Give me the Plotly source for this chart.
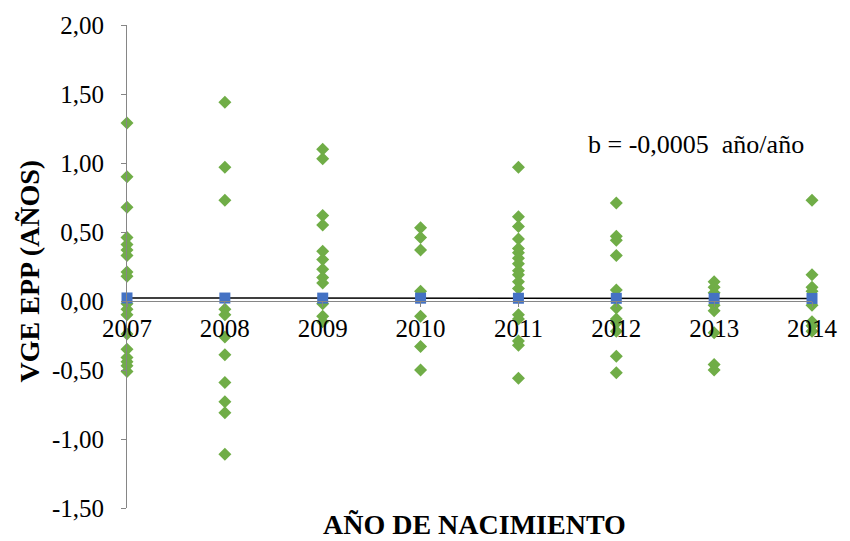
import plotly.graph_objects as go

# Birth years on the category axis
years = [2007, 2008, 2009, 2010, 2011, 2012, 2013, 2014]

# VGE EPP values (years) per birth year
vge_2007 = [1.29, 0.90, 0.68, 0.46, 0.41, 0.37, 0.33, 0.21, 0.18,
            -0.02, -0.06, -0.10, -0.24, -0.35, -0.41, -0.44, -0.47, -0.51]
vge_2008 = [1.44, 0.97, 0.73, -0.06, -0.10, -0.26, -0.39, -0.59, -0.73, -0.81, -1.11]
vge_2009 = [1.10, 1.03, 0.62, 0.55, 0.36, 0.30, 0.23, 0.17, 0.13, -0.02, -0.11, -0.15]
vge_2010 = [0.53, 0.46, 0.37, 0.07, -0.11, -0.33, -0.50]
vge_2011 = [0.97, 0.61, 0.54, 0.45, 0.38, 0.35, 0.31, 0.27, 0.22, 0.19, 0.14, 0.09,
            -0.10, -0.13, -0.29, -0.32, -0.56]
vge_2012 = [0.71, 0.47, 0.44, 0.33, 0.08, -0.05, -0.13, -0.16, -0.22, -0.40, -0.52]
vge_2013 = [0.14, 0.10, 0.06, -0.03, -0.07, -0.23, -0.46, -0.50]
vge_2014 = [0.73, 0.19, 0.10, 0.07, -0.03, -0.15, -0.18, -0.22]

# Fitted trend values per year (slope b = -0,0005 año/año)
fitted = [0.022, 0.0215, 0.021, 0.0205, 0.020, 0.0195, 0.019, 0.0185]
slope_label = "b = -0,0005\u00a0 año/año"

y_ticks = [2.0, 1.5, 1.0, 0.5, 0.0, -0.5, -1.0, -1.5]
y_ticktext = [f"{v:.2f}".replace(".", ",") for v in y_ticks]

groups = [vge_2007, vge_2008, vge_2009, vge_2010, vge_2011, vge_2012, vge_2013, vge_2014]
xs, ys = [], []
for yr, vals in zip(years, groups):
    xs += [yr] * len(vals)
    ys += vals

SERIF = "Times New Roman"
GREEN = "#70AD47"
BLUE = "#4472C4"
AXIS = "#868686"

fig = go.Figure()
fig.add_trace(go.Scatter(
    x=xs, y=ys, mode="markers", cliponaxis=False,
    marker=dict(symbol="diamond", size=10, color=GREEN, line=dict(width=0)),
    showlegend=False,
))
fig.add_trace(go.Scatter(
    x=years, y=fitted, mode="lines+markers", cliponaxis=False,
    line=dict(color="black", width=1.5),
    marker=dict(symbol="square", size=11, color=BLUE, line=dict(width=0)),
    showlegend=False,
))

fig.update_layout(
    width=850, height=541,
    margin=dict(l=127, r=30, t=20, b=33),
    paper_bgcolor="white", plot_bgcolor="white",
    font=dict(family=SERIF, size=25, color="black"),
    xaxis=dict(
        range=[2007, 2014], anchor="free", position=1.5 / 3.5,
        tickvals=years, ticktext=[str(y) for y in years],
        showline=True, linecolor=AXIS, linewidth=1,
        ticks="outside", ticklen=5, tickcolor=AXIS,
        showgrid=False, zeroline=False,
        tickfont=dict(family=SERIF, size=25, color="black"),
    ),
    yaxis=dict(
        range=[-1.5, 2.0], tickvals=y_ticks, ticktext=y_ticktext,
        showline=True, linecolor=AXIS, linewidth=1,
        ticks="outside", ticklen=5, tickcolor=AXIS,
        ticklabelstandoff=12,
        showgrid=False, zeroline=False,
        tickfont=dict(family=SERIF, size=25, color="black"),
    ),
    annotations=[
        dict(text="<b>VGE EPP (AÑOS)</b>", xref="paper", yref="paper",
             x=-0.143, y=0.49, textangle=-90, showarrow=False,
             xanchor="center", yanchor="middle",
             font=dict(family=SERIF, size=28, color="black")),
        dict(text="<b>AÑO DE NACIMIENTO</b>", xref="paper", yref="paper",
             x=0.508, y=-0.035, showarrow=False,
             xanchor="center", yanchor="middle",
             font=dict(family=SERIF, size=28, color="black")),
        dict(text=slope_label, xref="paper", yref="paper",
             x=0.83, y=0.752, showarrow=False,
             xanchor="center", yanchor="middle",
             font=dict(family=SERIF, size=26, color="black")),
    ],
)

fig.write_html("out.html")
